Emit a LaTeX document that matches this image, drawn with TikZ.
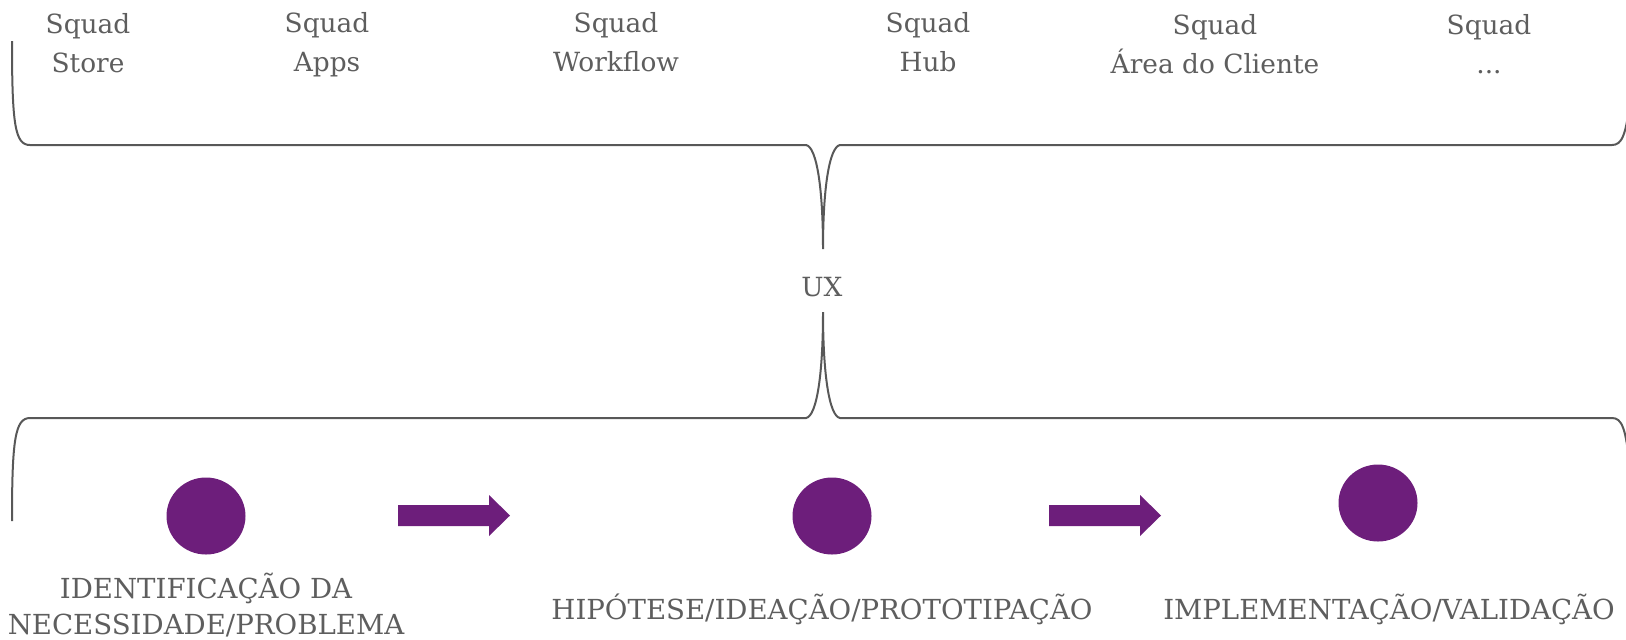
\documentclass[tikz,border=0pt]{standalone}
\usepackage{fontspec}
\setmainfont{DejaVu Serif}
\usetikzlibrary{shapes.geometric}
\definecolor{inkgrey}{HTML}{5E5E5E}
\definecolor{linegrey}{HTML}{585858}
\definecolor{plum}{HTML}{6D1E7B}
\begin{document}
\begin{tikzpicture}[x=0.5pt,y=-0.5pt,
  label/.style={text=inkgrey, font=\fontsize{13.2pt}{19.5pt}\selectfont, align=center, inner sep=0pt},
  steplabel/.style={label, font=\fontsize{13.8pt}{18pt}\selectfont},
  brace/.style={draw=linegrey, line width=1pt},
  dot/.style={ellipse, fill=plum, minimum width=39.5pt, minimum height=38.5pt, inner sep=0pt},
  blockarrow/.style={fill=plum}]
\useasboundingbox (0,0) rectangle (1626,639);
\clip (0,0) rectangle (1626,639);

% squad names
\node[label] (store)    at (88,43)   {Squad\\Store};
\node[label] (apps)     at (327,45)  {Squad\\Apps};
\node[label] (workflow) at (616,42)  {Squad\\Workflow};
\node[label] (hub)      at (928,42)  {Squad\\Hub};
\node[label] (area)     at (1215,44) {Squad\\Área do Cliente};
\node[label] (more)     at (1489,44) {Squad\\...};

% central label
\node[label] (ux) at (822,287) {UX};

% upper brace, cusp pointing down to UX
\draw[brace] (12,41) .. controls (12,125) and (15,145) .. (30,145)
  -- (806,145) .. controls (817,147) and (823,190) .. (823,249)
  .. controls (823,190) and (829,147) .. (840,145)
  -- (1612,145) .. controls (1622,145) and (1626,135) .. (1630,100);

% lower brace, cusp pointing up to UX
\draw[brace] (12,521) .. controls (12,440) and (15,418) .. (30,418)
  -- (806,418) .. controls (817,416) and (823,373) .. (823,312)
  .. controls (823,373) and (829,416) .. (840,418)
  -- (1612,418) .. controls (1622,418) and (1626,428) .. (1630,470);

% process steps
\node[dot] (s1) at (206,516) {};
\node[dot] (s2) at (832,516) {};
\node[dot] (s3) at (1378,503) {};

\coordinate (a1) at (398,515.5);
\coordinate (a2) at (1049,515.5);
\foreach \a in {a1,a2}
  \fill[blockarrow] (\a) ++(0,-10.5) -- ++(91,0) -- ++(0,-10) -- ++(21,20.5)
    -- ++(-21,20.5) -- ++(0,-10) -- ++(-91,0) -- cycle;

\node[steplabel] (t1) at (206,605) {IDENTIFICAÇÃO DA\\NECESSIDADE/PROBLEMA};
\node[steplabel] (t2) at (822,609) {HIPÓTESE/IDEAÇÃO/PROTOTIPAÇÃO};
\node[steplabel] (t3) at (1389,609) {IMPLEMENTAÇÃO/VALIDAÇÃO};
\end{tikzpicture}
\end{document}
